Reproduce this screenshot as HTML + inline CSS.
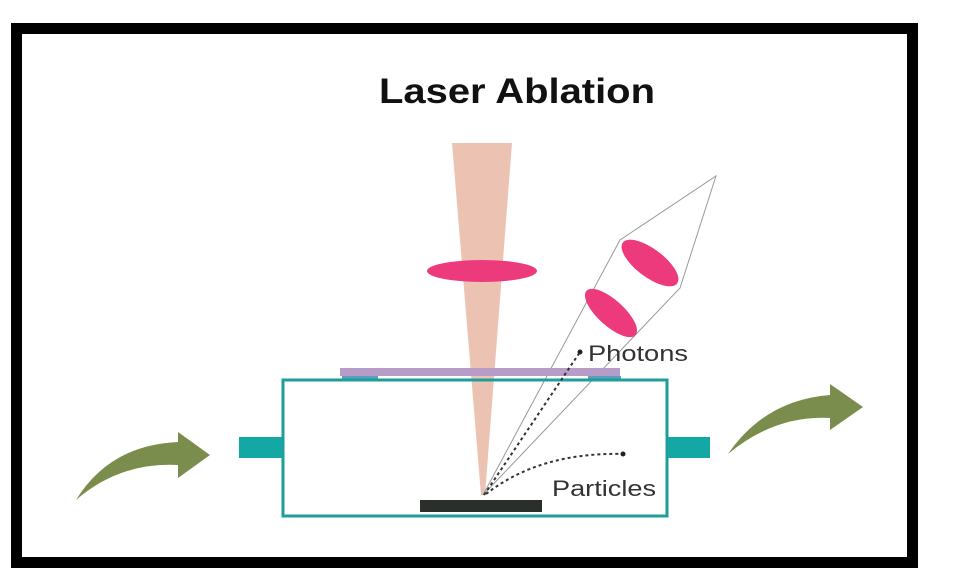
<!DOCTYPE html>
<html><head><style>body{margin:0;background:#fff}svg{display:block}</style></head>
<body>
<svg width="953" height="581" viewBox="0 0 953 581" xmlns="http://www.w3.org/2000/svg">
<rect x="0" y="0" width="953" height="581" fill="#fff"/>
<rect x="16.5" y="28.5" width="896" height="534" fill="none" stroke="#000" stroke-width="11"/>
<text x="379" y="103" textLength="276" lengthAdjust="spacingAndGlyphs" font-family="Liberation Sans, sans-serif" font-weight="bold" font-size="35" fill="#111">Laser Ablation</text>
<!-- beam -->
<polygon points="452,143 512,143 485,495 481,495" fill="#ecc3b3"/>
<ellipse cx="482" cy="271" rx="55" ry="11" fill="#ec3a7c"/>
<!-- cone lines -->
<polyline points="483,495 620,240 716,176 680,288 483,495" fill="none" stroke="#999" stroke-width="1"/>
<ellipse cx="650" cy="263" rx="34" ry="14" transform="rotate(37 650 263)" fill="#ec3a7c"/>
<ellipse cx="611" cy="313" rx="33" ry="13" transform="rotate(42 611 313)" fill="#ec3a7c"/>
<!-- chamber -->
<rect x="340" y="368" width="280" height="8" fill="#b79cc7"/>
<rect x="342" y="376" width="36" height="4" fill="#5a9fbf"/>
<rect x="588" y="376" width="33" height="4" fill="#5a9fbf"/>
<rect x="283" y="380" width="384" height="136" fill="none" stroke="#1d9e9b" stroke-width="3"/>
<rect x="239" y="437" width="43" height="21" fill="#13a8a3"/>
<rect x="668" y="437" width="42" height="21" fill="#13a8a3"/>
<rect x="420" y="500" width="122" height="12" fill="#2a2f2c"/>
<!-- dotted -->
<line x1="484" y1="495" x2="580" y2="352" stroke="#333" stroke-width="2" stroke-dasharray="3,3"/>
<circle cx="580" cy="352" r="2.5" fill="#222"/>
<path d="M486,494 Q540,452 623,454" fill="none" stroke="#333" stroke-width="2" stroke-dasharray="3,3"/>
<circle cx="623" cy="454" r="2.5" fill="#222"/>
<text x="588" y="361" textLength="100" lengthAdjust="spacingAndGlyphs" font-family="Liberation Sans, sans-serif" font-size="22" fill="#333">Photons</text>
<text x="552" y="496" textLength="104" lengthAdjust="spacingAndGlyphs" font-family="Liberation Sans, sans-serif" font-size="22" fill="#333">Particles</text>
<!-- arrows -->
<path d="M76,500 Q110,445 178,442 L178,432 L210,455 L178,478 L178,465 Q120,462 76,500 Z" fill="#7b8d4c"/>
<path d="M728,454 Q765,400 830,395 L830,384 L863,407 L830,430 L830,418 Q775,415 728,454 Z" fill="#7b8d4c"/>
</svg>
</body></html>
